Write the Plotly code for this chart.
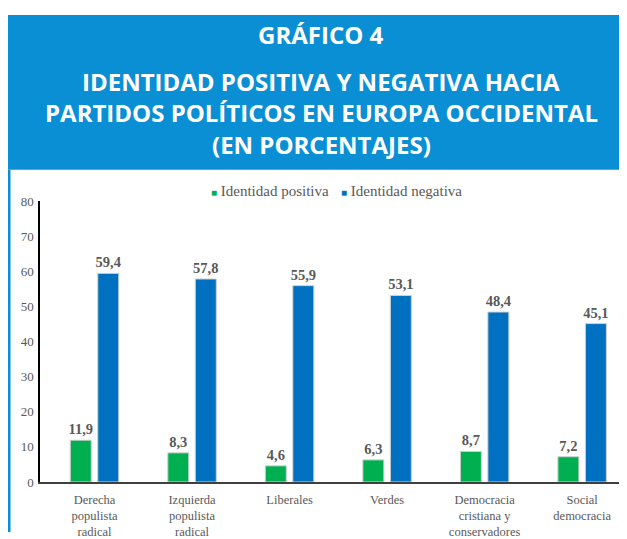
import plotly.graph_objects as go

categories = ["Derecha<br>populista<br>radical", "Izquierda<br>populista<br>radical", "Liberales",
              "Verdes", "Democracia<br>cristiana y<br>conservadores", "Social<br>democracia"]
positiva = [11.9, 8.3, 4.6, 6.3, 8.7, 7.2]
negativa = [59.4, 57.8, 55.9, 53.1, 48.4, 45.1]
y_ticks = [0, 10, 20, 30, 40, 50, 60, 70, 80]
series_names = ["Identidad positiva", "Identidad negativa"]
series_colors = ["#00B050", "#0070C0"]

# the page body has an 8px margin: figure is drawn 8px in from the page corner
OFF = 8
W, H = 627 - OFF, 539 - OFF
L, R, T, B = 40 - OFF, 0, 201 - OFF, 51
PW, PH = W - L - R, H - T - B


def px(page_x):
    return (page_x - OFF - L) / PW


def py(page_y):
    return (H - B - (page_y - OFF)) / PH


def fmt(v):
    return f"{v:.1f}".replace(".", ",")


BLUE_BOX = "#0A8FD5"
GRAY = "#595959"
SERIF = "Liberation Serif"

fig = go.Figure()
for name, vals, col in zip(series_names, [positiva, negativa], series_colors):
    fig.add_trace(go.Bar(
        x=categories, y=vals, name=name,
        marker=dict(color=col, line=dict(color="#d0d0d0", width=1)),
        text=[fmt(v) for v in vals], textposition="outside", constraintext="none",
        textfont=dict(family=SERIF, size=14.5, color=GRAY, weight="bold"),
        cliponaxis=False, showlegend=False,
    ))

shapes = [
    dict(type="rect", xref="paper", yref="paper", x0=px(8), x1=px(627), y0=py(169), y1=py(11),
         fillcolor=BLUE_BOX, line=dict(width=0), layer="below"),
    dict(type="rect", xref="paper", yref="paper", x0=px(8), x1=px(10.5), y0=py(539), y1=py(169),
         fillcolor=BLUE_BOX, line=dict(width=0), layer="below"),
]

title_font = dict(family="Open Sans", size=24, color="white", weight="bold")
annotations = []
for txt, yy in [("GRÁFICO 4", 31),
                ("IDENTIDAD POSITIVA Y NEGATIVA HACIA", 79),
                ("PARTIDOS POLÍTICOS EN EUROPA OCCIDENTAL", 111),
                ("(EN PORCENTAJES)", 143)]:
    annotations.append(dict(text=txt, x=px(321), y=py(yy), xref="paper", yref="paper",
                            showarrow=False, font=title_font, xanchor="center", yanchor="middle"))

# legend
for name, col, lx in zip(series_names, series_colors, [209, 339]):
    annotations.append(dict(
        text=f'<span style="color:{col};font-size:10px">■</span> {name}',
        x=px(lx), y=py(191), xref="paper", yref="paper", showarrow=False,
        xanchor="left", yanchor="middle",
        font=dict(family=SERIF, size=15, color=GRAY)))

fig.update_layout(
    width=W, height=H,
    margin=dict(l=L, r=R, t=T, b=B),
    paper_bgcolor="white", plot_bgcolor="white",
    barmode="group", bargap=0.436, bargroupgap=0.237,
    showlegend=False,
    shapes=shapes,
    annotations=annotations,
    xaxis=dict(range=[-0.559, 5.46], showline=True, linecolor="#404040", linewidth=1.5,
               ticks="", tickfont=dict(family=SERIF, size=12.5, color=GRAY), showgrid=False,
               tickangle=0, ticklabelstandoff=5),
    yaxis=dict(range=[0, 80], tickvals=y_ticks, showline=True, linecolor="black", linewidth=1.5,
               ticks="", tickfont=dict(family=SERIF, size=13, color=GRAY), showgrid=False,
               zeroline=False, ticklabelstandoff=2),
)

fig.write_html("out.html")
